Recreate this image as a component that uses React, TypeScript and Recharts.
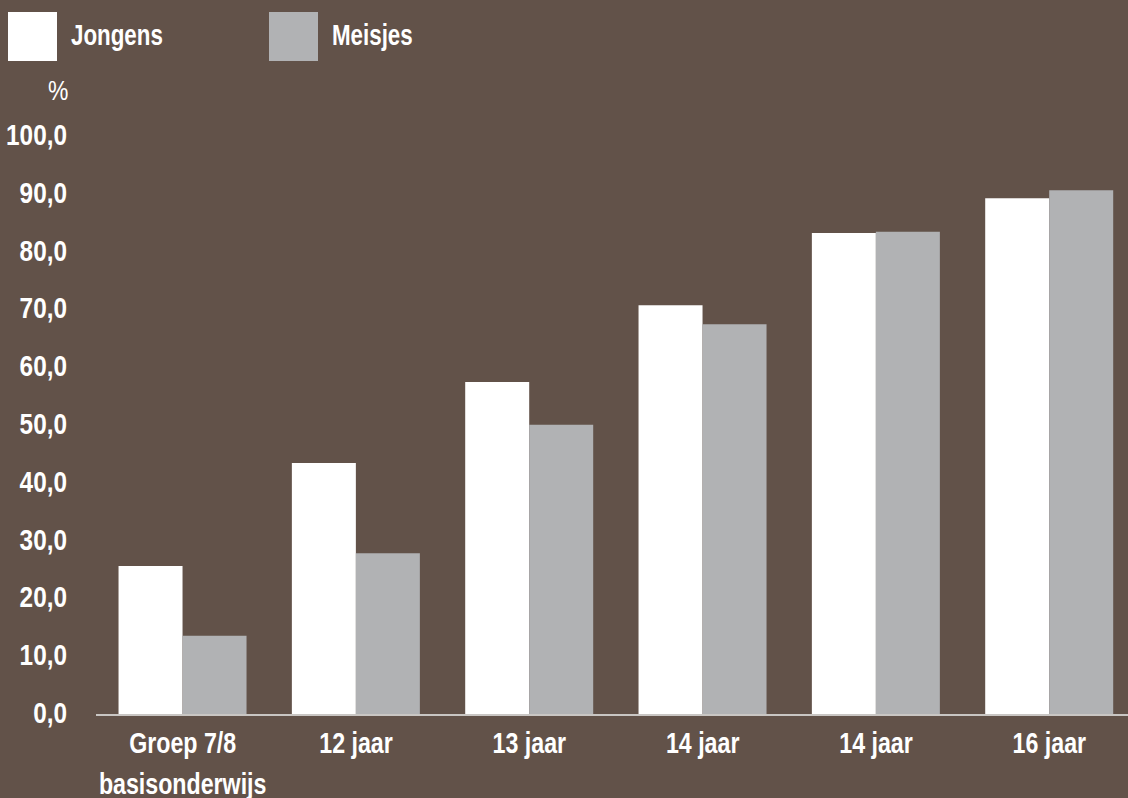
import { BarChart, Bar, XAxis, YAxis } from 'recharts';

const categories = ['Groep 7/8\nbasisonderwijs', '12 jaar', '13 jaar', '14 jaar', '14 jaar', '16 jaar'];
const jongens = [25.8, 43.6, 57.6, 70.9, 83.4, 89.4];
const meisjes = [13.7, 28.0, 50.2, 67.6, 83.6, 90.8];
const yTicks = [0, 10, 20, 30, 40, 50, 60, 70, 80, 90, 100];

const BG = '#625249';
const GREY = '#b1b2b4';
const FONT = '"Liberation Sans", Arial, sans-serif';
const SX = 0.8;

const data = categories.map((c, i) => ({ idx: i, jongens: jongens[i], meisjes: meisjes[i] }));

function XTick(props: any) {
  const { x, y, payload } = props;
  const lines = categories[payload.value].split('\n');
  return (
    <g transform={`translate(${x},${y}) scale(${SX},1)`}>
      <text x={0} y={30} textAnchor="middle" fill="#fff" fontFamily={FONT} fontWeight="bold" fontSize={29}>
        {lines.map((l, i) => (
          <tspan key={i} x={0} dy={i === 0 ? 0 : 41}>{l}</tspan>
        ))}
      </text>
    </g>
  );
}

function YTick(props: any) {
  const { x, y, payload } = props;
  return (
    <g transform={`translate(${x},${y}) scale(${SX + 0.04},1)`}>
      <text x={0} y={8} textAnchor="end" fill="#fff" fontFamily={FONT} fontWeight="bold" fontSize={29}>
        {payload.value.toFixed(1).replace('.', ',')}
      </text>
    </g>
  );
}

const legendItems = [
  { name: 'Jongens', color: '#ffffff', x: 8 },
  { name: 'Meisjes', color: GREY, x: 269 },
];

export default function App() {
  return (
    <div style={{ position: 'absolute', left: 0, top: 0, width: 1128, height: 798, overflow: 'hidden', background: BG }}>
      <BarChart
        width={1140}
        height={798}
        data={data}
        margin={{ top: 137, right: 4, bottom: 53, left: 0 }}
        barCategoryGap="13%"
        barGap={0}
      >
        <XAxis
          dataKey="idx"
          type="category"
          height={30}
          axisLine={{ stroke: '#c9c6c3', strokeWidth: 2 }}
          tickLine={false}
          tick={<XTick />}
          interval={0}
        />
        <YAxis
          domain={[0, 100]}
          ticks={yTicks}
          width={96}
          axisLine={false}
          tickLine={false}
          tickSize={0}
          tickMargin={29}
          tick={<YTick />}
        />
        <Bar dataKey="jongens" name="Jongens" fill="#ffffff" isAnimationActive={false} />
        <Bar dataKey="meisjes" name="Meisjes" fill={GREY} isAnimationActive={false} />
      </BarChart>
      <svg width={500} height={110} style={{ position: 'absolute', left: 0, top: 0 }}>
        {legendItems.map((it) => (
          <g key={it.name}>
            <rect x={it.x} y={12} width={49} height={49} fill={it.color} />
            <g transform={`translate(${it.x + 63},45) scale(0.77,1)`}>
              <text x={0} y={0} fill="#fff" fontFamily={FONT} fontWeight="bold" fontSize={29}>
                {it.name}
              </text>
            </g>
          </g>
        ))}
        <g transform="translate(48,100) scale(0.85,1)">
          <text x={0} y={0} fill="#fff" fontFamily={FONT} fontSize={27}>%</text>
        </g>
      </svg>
    </div>
  );
}
